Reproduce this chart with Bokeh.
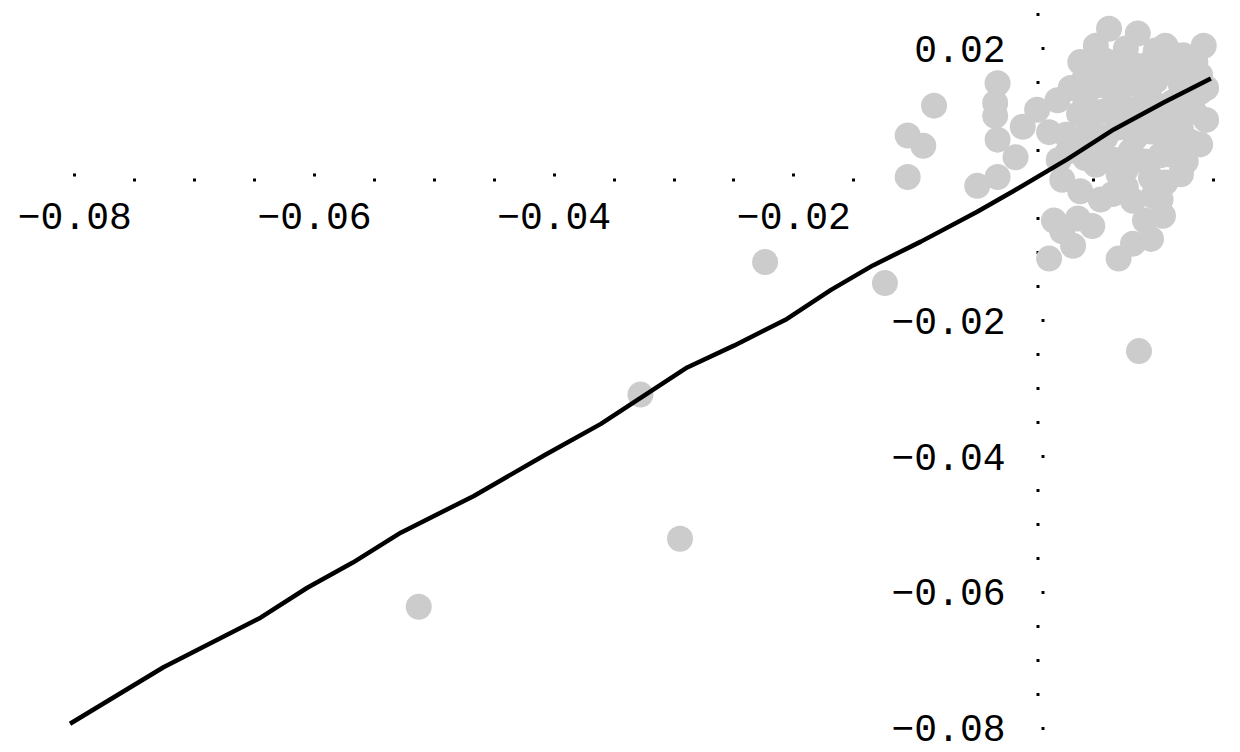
from bokeh.plotting import figure
from bokeh.models import Range1d, FixedTicker, CustomJSTickFormatter, LinearAxis
from bokeh.embed import file_html
from bokeh.resources import INLINE

# Fitted curve
fit_x = [-0.0804, -0.0726, -0.0645, -0.0606, -0.0568, -0.0528, -0.0467, -0.0407,
         -0.0361, -0.0289, -0.0250, -0.0207, -0.0169, -0.0134, -0.0094, -0.0047,
         -0.0017, 0.0028, 0.0067, 0.0109, 0.0148]
fit_y = [-0.0793, -0.0710, -0.0637, -0.0593, -0.0556, -0.0512, -0.0458, -0.0397,
         -0.0352, -0.0269, -0.0237, -0.0199, -0.0155, -0.0119, -0.0084, -0.0040,
         -0.0010, 0.0037, 0.0081, 0.0121, 0.0156]

# Observations
obs_x = [-0.0513, -0.0295, -0.0328, -0.0224, -0.0124, 0.0088,
         -0.0083, -0.0105, -0.0092, -0.0105, -0.0030, -0.0032, -0.0032, -0.0030,
         -0.0015, -0.0047, -0.0030,
         0.0063, 0.0087, 0.0142, 0.0110, 0.0125, 0.0049, 0.0073, 0.0098, 0.0121,
         0.0139, 0.0041, 0.0064, 0.0089, 0.0131, 0.0020, 0.0043, 0.0068, 0.0093,
         0.0116, 0.0003, -0.0009, 0.0038, 0.0058, 0.0081, 0.0106, 0.0134, 0.0013,
         0.0046, 0.0071, 0.0098, 0.0123, 0.0139, 0.0029, 0.0056, 0.0081, 0.0106,
         0.0127, 0.0024, 0.0052, 0.0066, 0.0083, 0.0110, 0.0098, 0.0071, 0.0100,
         0.0017, 0.0037, 0.0049, 0.0093, 0.0108, 0.0033, 0.0013, 0.0071, 0.0083,
         0.0110, 0.0139,
         0.0052, 0.0077, 0.0102, 0.0119, 0.0039, 0.0060, 0.0085, 0.0110, 0.0135,
         0.0031, 0.0054, 0.0077, 0.0102, 0.0123, 0.0144, 0.0048, 0.0073, 0.0093,
         0.0119, 0.0144, 0.0027, 0.0060, 0.0085, 0.0131, 0.0021, 0.0043, 0.0068,
         0.0093, 0.0123, 0.0077, 0.0039, 0.0056, 0.0106, 0.0024, 0.0098,
         0.0098, 0.0085, 0.0131, 0.0077, 0.0071, 0.0039, 0.0114, 0.0056]
obs_y = [-0.0621, -0.0521, -0.0309, -0.0114, -0.0145, -0.0245,
         0.0116, 0.0072, 0.0057, 0.0011, 0.0149, 0.0120, 0.0101, 0.0066,
         0.0040, -0.0002, 0.0011,
         0.0229, 0.0222, 0.0204, 0.0204, 0.0190, 0.0175, 0.0180, 0.0180, 0.0165,
         0.0161, 0.0151, 0.0153, 0.0156, 0.0136, 0.0124, 0.0127, 0.0130, 0.0136,
         0.0121, 0.0110, 0.0085, 0.0104, 0.0107, 0.0110, 0.0101, 0.0107, 0.0077,
         0.0078, 0.0084, 0.0078, 0.0081, 0.0059, 0.0049, 0.0052, 0.0049, 0.0043,
         0.0034, 0.0007, 0.0029, -0.0014, -0.0024, 0.0003, 0.0010, 0.0015, -0.0017,
         -0.0053, -0.0050, -0.0061, -0.0053, -0.0046, -0.0090, -0.0109, -0.0109, -0.0087,
         0.0066, 0.0136,
         0.0204, 0.0200, 0.0197, 0.0190, 0.0180, 0.0182, 0.0175, 0.0175, 0.0180,
         0.0142, 0.0146, 0.0146, 0.0153, 0.0146, 0.0142, 0.0098, 0.0098, 0.0102,
         0.0098, 0.0095, 0.0073, 0.0069, 0.0069, 0.0063, 0.0036, 0.0039, 0.0036,
         0.0034, 0.0015, -0.0004, -0.0010, -0.0022, -0.0022, -0.0069, -0.0080,
         0.0124, 0.0088, 0.0117, 0.0022, 0.0117, 0.0066, 0.0044, 0.0168]
# a few positions re-read
obs_x[43], obs_y[43] = 0.0013, 0.0077
obs_x[54], obs_y[54] = 0.0024, 0.0007
obs_x[55], obs_y[55] = 0.0052, 0.0029
obs_x[59], obs_y[59] = 0.0098, 0.0010

# Axis ticks
x_major = [-0.08, -0.06, -0.04, -0.02]
x_minor = [-0.075, -0.07, -0.065, -0.055, -0.05, -0.045, -0.035, -0.03, -0.025,
           -0.015, -0.01, -0.005, 0.005, 0.01, 0.015]
y_major = [-0.08, -0.06, -0.04, -0.02, 0.02]
y_minor = [-0.075, -0.07, -0.065, -0.055, -0.05, -0.045, -0.035, -0.03, -0.025,
           -0.015, -0.01, -0.005, 0.005, 0.01, 0.015, 0.025]

p = figure(width=1240, height=752, output_backend="svg", toolbar_location=None,
           x_range=Range1d(-0.0862, 0.01727), y_range=Range1d(-0.08353, 0.02706),
           x_axis_location=None, y_axis_location=None, min_border=0,
           outline_line_color=None, background_fill_color="white",
           border_fill_color="white")
p.xgrid.visible = False
p.ygrid.visible = False

fmt = CustomJSTickFormatter(code="return (tick < 0 ? '\u2212' : '') + Math.abs(tick).toFixed(2);")


def style_axis(ax, standoff):
    ax.axis_line_color = None
    ax.major_tick_in = 11
    ax.major_tick_out = -8
    ax.minor_tick_in = 6
    ax.minor_tick_out = -3
    ax.major_tick_line_width = 3
    ax.minor_tick_line_width = 3
    ax.major_tick_line_cap = "butt"
    ax.minor_tick_line_cap = "butt"
    ax.major_tick_line_color = "black"
    ax.minor_tick_line_color = "black"
    ax.major_label_text_font = "Liberation Mono"
    ax.major_label_text_font_size = "38px"
    ax.major_label_text_color = "black"
    ax.major_label_standoff = standoff


xaxis = LinearAxis(fixed_location=0,
                   ticker=FixedTicker(ticks=x_major, minor_ticks=x_minor),
                   formatter=fmt)
style_axis(xaxis, 21)
p.add_layout(xaxis, "below")

yaxis = LinearAxis(fixed_location=0,
                   ticker=FixedTicker(ticks=y_major, minor_ticks=y_minor),
                   formatter=fmt)
style_axis(yaxis, 31)
p.add_layout(yaxis, "left")

pts = p.scatter(obs_x, obs_y, size=26, marker="circle", fill_color="#cccccc",
                line_color=None)
pts.level = "annotation"

fit = p.line(fit_x, fit_y, line_color="black", line_width=4.5, line_join="round")
fit.level = "overlay"

open("out.html", "w").write(file_html(p, INLINE))
